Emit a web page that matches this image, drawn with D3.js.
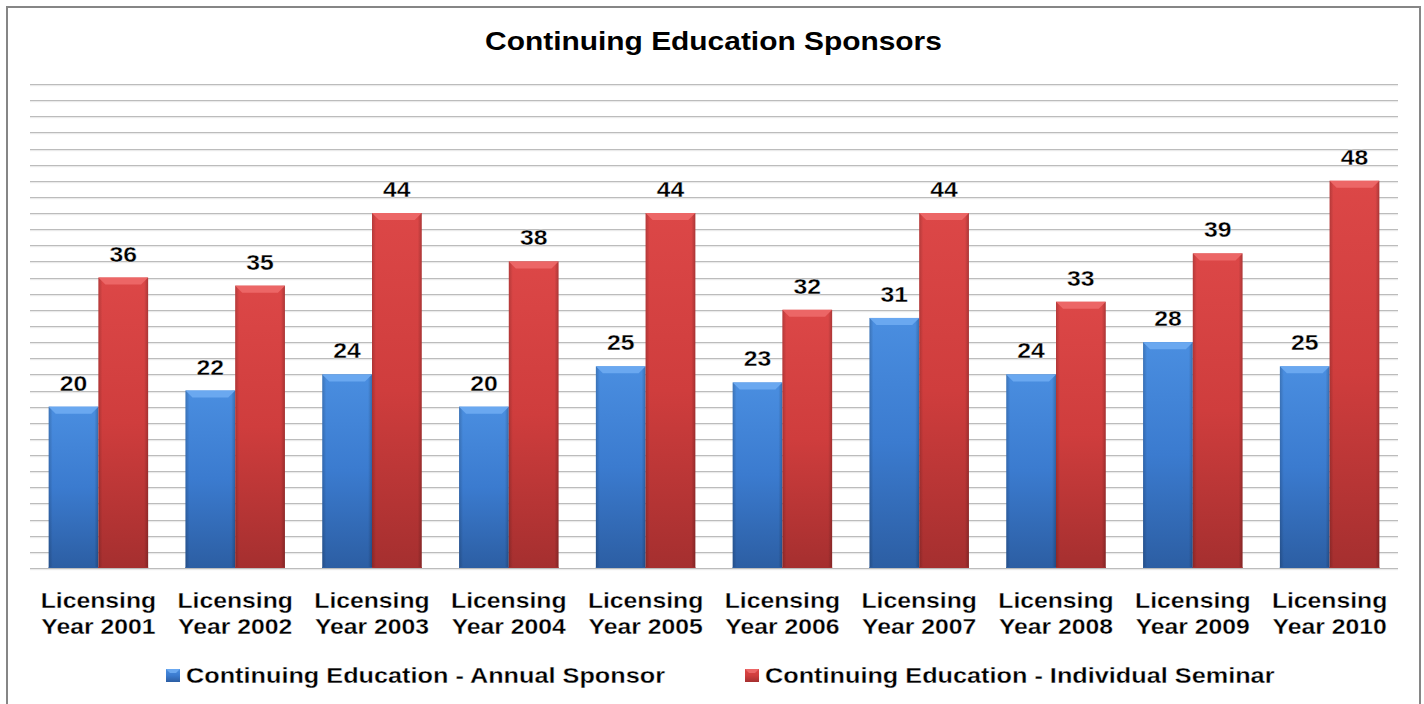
<!DOCTYPE html>
<html>
<head>
<meta charset="utf-8">
<script src="https://cdn.jsdelivr.net/npm/d3@7/dist/d3.min.js"></script>
<style>
  html, body { margin: 0; padding: 0; background: #fff; }
  svg { display: block; font-family: "Liberation Sans", Arial, sans-serif; }
</style>
</head>
<body>
<svg id="chart" width="1424" height="704"></svg>
<script>
const title = "Continuing Education Sponsors";
const categories = ["2001","2002","2003","2004","2005","2006","2007","2008","2009","2010"];
const categoryLine1 = "Licensing";
const categoryPrefix = "Year ";
const seriesNames = ["Continuing Education - Annual Sponsor", "Continuing Education - Individual Seminar"];
const annualSponsor = [20, 22, 24, 20, 25, 23, 31, 24, 28, 25];
const individualSeminar = [36, 35, 44, 38, 44, 32, 44, 33, 39, 48];
const yMax = 60;
const gridStep = 2;

const svg = d3.select("#chart");

const plot = { left: 30, right: 1398, top: 84, bottom: 568 };

const defs = svg.append("defs");
const palettes = [
  { top: "#4a8ee0", mid: "#3b7bcf", bottom: "#2c5ea3", bevel: "#6aa8f0" },
  { top: "#dc4747", mid: "#cf3d3d", bottom: "#a52f2f", bevel: "#ec6666" }
];
palettes.forEach((p, i) => {
  const g = defs.append("linearGradient").attr("id", "vg" + i).attr("x1", 0).attr("x2", 0).attr("y1", 0).attr("y2", 1);
  g.append("stop").attr("offset", "0%").attr("stop-color", p.top);
  g.append("stop").attr("offset", "50%").attr("stop-color", p.mid);
  g.append("stop").attr("offset", "100%").attr("stop-color", p.bottom);
});
const hg = defs.append("linearGradient").attr("id", "hedge").attr("x1", 0).attr("x2", 1).attr("y1", 0).attr("y2", 0);
hg.append("stop").attr("offset", "0%").attr("stop-color", "#000").attr("stop-opacity", 0.18);
hg.append("stop").attr("offset", "8%").attr("stop-color", "#000").attr("stop-opacity", 0.0);
hg.append("stop").attr("offset", "92%").attr("stop-color", "#000").attr("stop-opacity", 0.0);
hg.append("stop").attr("offset", "100%").attr("stop-color", "#000").attr("stop-opacity", 0.22);

// border
svg.append("rect").attr("x", 7).attr("y", 7).attr("width", 1413).attr("height", 702)
  .attr("fill", "#fff").attr("stroke", "#868686").attr("stroke-width", 2);

// measure bold width, draw stretched; optional thin white stroke to lighten the weight
function fitText(sel, stretch, thin) {
  sel.each(function() {
    const t = d3.select(this).attr("font-weight", "bold");
    const w = this.getComputedTextLength();
    t.attr("textLength", w * stretch).attr("lengthAdjust", "spacingAndGlyphs");
    if (thin) t.attr("stroke", "#fff").attr("stroke-width", thin);
  });
}

// title
svg.append("text").attr("x", 713.5).attr("y", 49.5).attr("text-anchor", "middle")
  .attr("font-size", 26).attr("fill", "#000").text(title)
  .call(fitText, 1.15, 0);

const x0 = d3.scaleBand().domain(categories).range([plot.left, plot.right]).paddingInner(0.273).paddingOuter(0.1365);
const x1 = d3.scaleBand().domain([0, 1]).range([0, x0.bandwidth()]);
const y = d3.scaleLinear().domain([0, yMax]).range([plot.bottom, plot.top]);

// gridlines
const gridVals = d3.range(0, yMax + gridStep / 2, gridStep);
svg.append("g").selectAll("line").data(gridVals).join("line")
  .attr("x1", plot.left).attr("x2", plot.right)
  .attr("y1", d => Math.round(y(d)) + 0.5).attr("y2", d => Math.round(y(d)) + 0.5)
  .attr("stroke", "#bcbcbc").attr("stroke-width", 1.2);
svg.append("g").selectAll("line").data(gridVals).join("line")
  .attr("x1", plot.left).attr("x2", plot.right)
  .attr("y1", d => Math.round(y(d)) + 1.7).attr("y2", d => Math.round(y(d)) + 1.7)
  .attr("stroke", "#e6e6e6").attr("stroke-width", 1);

const series = [annualSponsor, individualSeminar];
const bars = [];
categories.forEach((c, ci) => {
  series.forEach((s, si) => bars.push({ c, si, v: s[ci] }));
});

const bevel = 7;
const bg = svg.append("g").selectAll("g").data(bars).join("g");
bg.append("rect")
  .attr("x", d => x0(d.c) + x1(d.si)).attr("width", x1.bandwidth())
  .attr("y", d => y(d.v)).attr("height", d => y(0) - y(d.v))
  .attr("fill", d => `url(#vg${d.si})`);
bg.append("rect")
  .attr("x", d => x0(d.c) + x1(d.si)).attr("width", x1.bandwidth())
  .attr("y", d => y(d.v)).attr("height", d => y(0) - y(d.v))
  .attr("fill", "url(#hedge)");
bg.append("polygon")
  .attr("points", d => {
    const xl = x0(d.c) + x1(d.si), xr = xl + x1.bandwidth(), yt = y(d.v);
    return [[xl, yt], [xr, yt], [xr - bevel, yt + bevel], [xl + bevel, yt + bevel]].map(p => p.join(",")).join(" ");
  })
  .attr("fill", d => palettes[d.si].bevel);
bg.append("line")
  .attr("x1", d => x0(d.c) + x1(d.si)).attr("x2", d => x0(d.c) + x1(d.si) + x1.bandwidth())
  .attr("y1", d => y(0) - 0.5).attr("y2", d => y(0) - 0.5)
  .attr("stroke", d => palettes[d.si].bottom).attr("stroke-width", 1);

// value labels
svg.append("g").selectAll("text").data(bars).join("text")
  .attr("x", d => x0(d.c) + x1(d.si) + x1.bandwidth() / 2)
  .attr("y", d => y(d.v) - 16)
  .attr("text-anchor", "middle").attr("font-size", 21.5).attr("fill", "#000")
  .text(d => d.v)
  .call(fitText, 1.15, 0.3);

// category labels
const catG = svg.append("g").selectAll("g").data(categories).join("g");
catG.append("text").attr("x", d => x0(d) + x0.bandwidth() / 2).attr("y", 607.5)
  .attr("text-anchor", "middle").attr("font-size", 21.5).attr("fill", "#000").text(categoryLine1)
  .call(fitText, 1.15, 0.3);
catG.append("text").attr("x", d => x0(d) + x0.bandwidth() / 2).attr("y", 633.5)
  .attr("text-anchor", "middle").attr("font-size", 21.5).attr("fill", "#000").text(d => categoryPrefix + d)
  .call(fitText, 1.15, 0.3);

// legend
const legendX = [166, 745];
seriesNames.forEach((name, i) => {
  const lx = legendX[i], ly = 669;
  svg.append("rect").attr("x", lx).attr("y", ly).attr("width", 14).attr("height", 13).attr("fill", `url(#vg${i})`);
  svg.append("polygon").attr("points", [[lx, ly], [lx + 14, ly], [lx + 10, ly + 4], [lx + 4, ly + 4]].map(p => p.join(",")).join(" "))
    .attr("fill", palettes[i].bevel);
  svg.append("text").attr("x", lx + 20).attr("y", 682.5).attr("font-size", 21.5)
    .attr("fill", "#000").text(name).call(fitText, 1.175, 0.3);
});
</script>
</body>
</html>
